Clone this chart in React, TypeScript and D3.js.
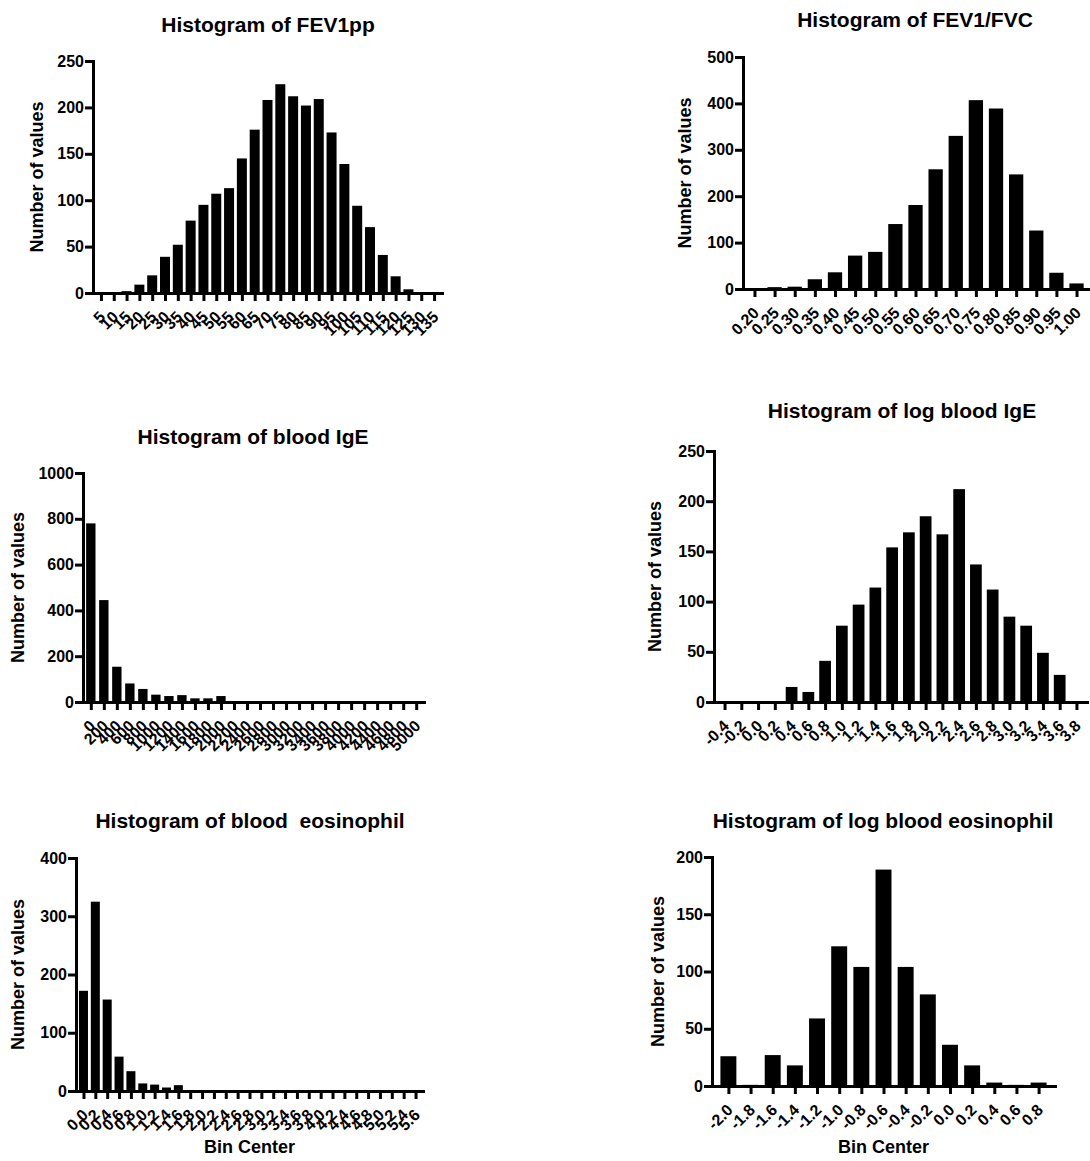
import React, { useEffect, useRef } from "react";
import * as d3 from "d3";

// ---- data ----
const fev1ppBins = ["5","10","15","20","25","30","35","40","45","50","55","60","65","70","75","80","85","90","95","100","105","110","115","120","125","130","135"];
const fev1ppCounts = [1,1,2,9,19,39,52,78,95,107,113,145,176,208,225,212,202,209,173,139,94,71,41,18,4,1,1];
const fev1ppYTicks = [0,50,100,150,200,250];

const ratioBins = ["0.20","0.25","0.30","0.35","0.40","0.45","0.50","0.55","0.60","0.65","0.70","0.75","0.80","0.85","0.90","0.95","1.00"];
const ratioCounts = [2,4,5,21,36,72,80,140,181,258,330,407,389,247,126,35,12];
const ratioYTicks = [0,100,200,300,400,500];

const igeBins = ["0","200","400","600","800","1000","1200","1400","1600","1800","2000","2200","2400","2600","2800","3000","3200","3400","3600","3800","4000","4200","4400","4600","4800","5000"];
const igeCounts = [780,445,154,81,57,32,26,30,16,16,26,3,2,2,1,2,1,1,1,1,1,1,1,1,1,1];
const igeYTicks = [0,200,400,600,800,1000];

const logIgeBins = ["-0.4","-0.2","0.0","0.2","0.4","0.6","0.8","1.0","1.2","1.4","1.6","1.8","2.0","2.2","2.4","2.6","2.8","3.0","3.2","3.4","3.6","3.8"];
const logIgeCounts = [1,1,1,1,15,10,41,76,97,114,154,169,185,167,212,137,112,85,76,49,27,1];
const logIgeYTicks = [0,50,100,150,200,250];

const eosBins = ["0.0","0.2","0.4","0.6","0.8","1.0","1.2","1.4","1.6","1.8","2.0","2.2","2.4","2.6","2.8","3.0","3.2","3.4","3.6","3.8","4.0","4.2","4.4","4.6","4.8","5.0","5.2","5.4","5.6"];
const eosCounts = [172,325,157,59,34,13,11,6,10,1,1,1,1,1,1,1,1,1,1,1,1,1,1,1,1,1,1,1,1];
const eosYTicks = [0,100,200,300,400];

const logEosBins = ["-2.0","-1.8","-1.6","-1.4","-1.2","-1.0","-0.8","-0.6","-0.4","-0.2","0.0","0.2","0.4","0.6","0.8"];
const logEosCounts = [26,1,27,18,59,122,104,189,104,80,36,18,3,1,3];
const logEosYTicks = [0,50,100,150,200];

const FONT = "'Liberation Sans', Arial, Helvetica, sans-serif";

const panels = [
  { title: "Histogram of FEV1pp", bins: fev1ppBins, counts: fev1ppCounts, yTicks: fev1ppYTicks,
    ax: 93, axEnd: 442, pad: 0.62, barRatio: 0.78, y0: 293, yTop: 61, titleX: 268, titleY: 32, ylabX: 37, xlab: false },
  { title: "Histogram of FEV1/FVC", bins: ratioBins, counts: ratioCounts, yTicks: ratioYTicks,
    ax: 743, axEnd: 1088, pad: 0.57, barRatio: 0.71, y0: 289, yTop: 57, titleX: 915, titleY: 27, ylabX: 685, xlab: false },
  { title: "Histogram of blood IgE", bins: igeBins, counts: igeCounts, yTicks: igeYTicks,
    ax: 83, axEnd: 424, pad: 0.6, barRatio: 0.72, y0: 702, yTop: 473, titleX: 253, titleY: 444, ylabX: 18, xlab: false },
  { title: "Histogram of log blood IgE", bins: logIgeBins, counts: logIgeCounts, yTicks: logIgeYTicks,
    ax: 714, axEnd: 1087, pad: 0.63, barRatio: 0.7, y0: 702, yTop: 451, titleX: 902, titleY: 418, ylabX: 655, xlab: false },
  { title: "Histogram of blood  eosinophil", bins: eosBins, counts: eosCounts, yTicks: eosYTicks,
    ax: 76, axEnd: 423, pad: 0.63, barRatio: 0.76, y0: 1091, yTop: 858, titleX: 250, titleY: 828, ylabX: 18, xlab: true },
  { title: "Histogram of log blood eosinophil", bins: logEosBins, counts: logEosCounts, yTicks: logEosYTicks,
    ax: 712, axEnd: 1055, pad: 0.74, barRatio: 0.72, y0: 1086, yTop: 857, titleX: 883, titleY: 828, ylabX: 658, xlab: true },
];

const App = () => {
  const svgRef = useRef<SVGSVGElement | null>(null);

  useEffect(() => {
    const svg = d3.select(svgRef.current);
    svg.selectAll("*").remove();

    panels.forEach((p) => {
      const g = svg.append("g");
      const x = d3.scalePoint<string>().domain(p.bins).range([p.ax, p.axEnd]).padding(p.pad);
      const y = d3.scaleLinear().domain([0, p.yTicks[p.yTicks.length - 1]]).range([p.y0, p.yTop]);
      const bw = x.step() * p.barRatio;

      g.selectAll("rect")
        .data(p.counts)
        .enter()
        .append("rect")
        .attr("x", (d, i) => (x(p.bins[i]) as number) - bw / 2)
        .attr("y", (d) => y(d))
        .attr("width", bw)
        .attr("height", (d) => p.y0 - y(d))
        .attr("fill", "#000");

      // x axis
      const xg = g.append("g")
        .attr("transform", `translate(0,${p.y0})`)
        .call(d3.axisBottom(x).tickSize(8).tickSizeOuter(0));
      xg.select(".domain").attr("stroke-width", 3).attr("stroke-linecap", "square");
      xg.selectAll(".tick line").attr("stroke-width", 3);
      xg.selectAll(".tick text")
        .attr("x", 0)
        .attr("y", 0)
        .attr("dy", "0.35em")
        .attr("transform", "translate(1,21) rotate(-45)")
        .style("text-anchor", "end")
        .attr("font-size", 16)
        .attr("font-weight", "bold")
        .attr("font-family", FONT)
        .attr("fill", "#000");

      // y axis
      const yg = g.append("g")
        .attr("transform", `translate(${p.ax},0)`)
        .call(d3.axisLeft(y).tickValues(p.yTicks).tickFormat(d3.format("d")).tickSize(8).tickPadding(1).tickSizeOuter(0));
      yg.select(".domain").attr("stroke-width", 3).attr("stroke-linecap", "square");
      yg.selectAll(".tick line").attr("stroke-width", 3);
      yg.selectAll(".tick text")
        .attr("font-size", 16)
        .attr("font-weight", "bold")
        .attr("font-family", FONT)
        .attr("fill", "#000");

      // titles
      g.append("text")
        .attr("x", p.titleX)
        .attr("y", p.titleY)
        .attr("text-anchor", "middle")
        .attr("font-size", 21)
        .attr("font-weight", "bold")
        .attr("font-family", FONT)
        .style("white-space", "pre")
        .text(p.title);

      g.append("text")
        .attr("transform", `translate(${p.ylabX},${(p.y0 + p.yTop) / 2}) rotate(-90)`)
        .attr("dy", "0.35em")
        .attr("text-anchor", "middle")
        .attr("font-size", 18)
        .attr("font-weight", "bold")
        .attr("font-family", FONT)
        .text("Number of values");

      if (p.xlab) {
        g.append("text")
          .attr("x", (p.ax + p.axEnd) / 2)
          .attr("y", 1153)
          .attr("text-anchor", "middle")
          .attr("font-size", 18)
          .attr("font-weight", "bold")
          .attr("font-family", FONT)
          .text("Bin Center");
      }
    });
  }, []);

  return (
    <svg
      ref={svgRef}
      width={1090}
      height={1161}
      style={{ position: "absolute", left: 0, top: 0, background: "#fff" }}
    ></svg>
  );
};

export default App;
